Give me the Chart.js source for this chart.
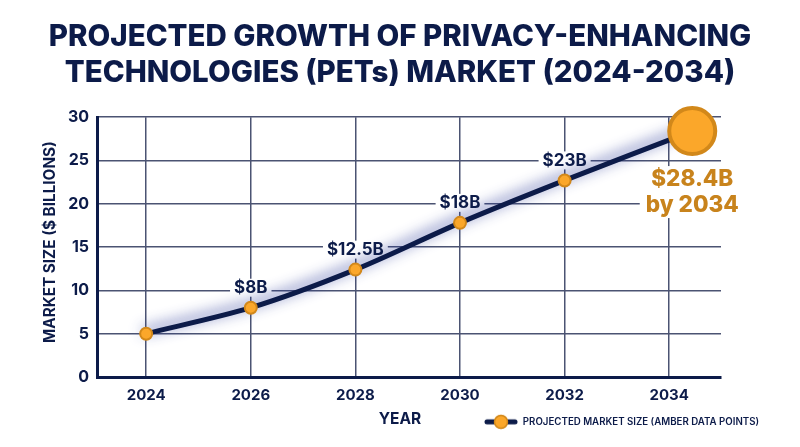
<!DOCTYPE html>
<html><head><meta charset="utf-8">
<style>html,body{margin:0;padding:0;background:#fff}canvas{display:block}</style>
<script src="https://cdn.jsdelivr.net/npm/chart.js@4"></script>
</head><body><canvas id="c" width="800" height="447"></canvas>
<script>
const titleLines = ['PROJECTED GROWTH OF PRIVACY-ENHANCING','TECHNOLOGIES (PETs) MARKET (2024-2034)'];
const years = [2024,2026,2028,2030,2032,2034.44];
const marketSize = [5,8,12.4,17.8,22.7,28.4];
const pointLabels = ['','$8B','$12.5B','$18B','$23B',''];
const calloutLines = ['$28.4B','by 2034'];
const xTicks = [2024,2026,2028,2030,2032,2034];
const yTicks = [0,5,10,15,20,25,30];
const xTitle = 'YEAR';
const yTitle = 'MARKET SIZE ($ BILLIONS)';
const legendText = 'PROJECTED MARKET SIZE (AMBER DATA POINTS)';

const NAVY='#0c1b49', GRID='#4b5372', AMBER='#fba72a', AMBER_D='#d2881a', GOLD='#c8831c';
const FF='Inter, "Open Sans", sans-serif';
const LABEL_FONT='700 17px '+FF, CALL_FONT='800 22.5px '+FF;
const pts = years.map((x,i)=>({x,y:marketSize[i]}));

const sym=document.createElement('canvas');sym.width=34;sym.height=16;
{const g=sym.getContext('2d');g.strokeStyle=NAVY;g.lineWidth=5;g.lineCap='round';
 g.beginPath();g.moveTo(3,8);g.lineTo(31,8);g.stroke();
 g.fillStyle=AMBER;g.strokeStyle=AMBER_D;g.lineWidth=1.5;g.beginPath();g.arc(17,8,6.5,0,7);g.fill();g.stroke();}

const glow={id:'glow',
 beforeDatasetDraw(c,a){if(a.index===0){c.ctx.save();c.ctx.shadowColor='rgba(40,55,150,0.85)';c.ctx.shadowBlur=14;c.ctx.shadowOffsetX=-1;c.ctx.shadowOffsetY=-3;}},
 afterDatasetDraw(c,a){if(a.index===0)c.ctx.restore();}};
function shiftTitle(s,dx,dy){if(s._wrapped)return;s._wrapped=true;const o=s.drawTitle;
 s.drawTitle=function(){const g=this.ctx;g.save();g.translate(dx,dy);o.call(this);g.restore();};}
const place={id:'place',beforeDraw(c){const l=c.legend;
 l.left=480;l.right=480+310;l.top=413;l.bottom=437;
 c.titleBlock.left=0;c.titleBlock.right=800;
 shiftTitle(c.scales.x,-9,0);shiftTitle(c.scales.y,1,-5);}};
function whiteBox(ctx,t,x,y,pad,h){const w=ctx.measureText(t).width;ctx.fillStyle='#fff';ctx.fillRect(x-w/2-pad,y-h/2,w+pad*2,h);}
const labels={id:'labels',
 beforeDatasetsDraw(c){const ctx=c.ctx,X=c.scales.x,Y=c.scales.y;ctx.save();
  ctx.font=LABEL_FONT;
  pts.forEach((p,i)=>{if(pointLabels[i])whiteBox(ctx,pointLabels[i],X.getPixelForValue(p.x),Y.getPixelForValue(p.y)-20,4,18);});
  const last=pts[pts.length-1],cx=X.getPixelForValue(last.x),cy=Y.getPixelForValue(last.y);
  ctx.font=CALL_FONT;
  calloutLines.forEach((t,i)=>whiteBox(ctx,t,cx,cy+48+i*26,6,26));
  ctx.restore();},
 afterDatasetsDraw(c){const ctx=c.ctx,X=c.scales.x,Y=c.scales.y;ctx.save();
  ctx.textAlign='center';ctx.textBaseline='middle';
  ctx.font=LABEL_FONT;ctx.fillStyle=NAVY;
  pts.forEach((p,i)=>{if(pointLabels[i])ctx.fillText(pointLabels[i],X.getPixelForValue(p.x),Y.getPixelForValue(p.y)-20);});
  const last=pts[pts.length-1],cx=X.getPixelForValue(last.x),cy=Y.getPixelForValue(last.y);
  ctx.font=CALL_FONT;ctx.fillStyle=GOLD;
  calloutLines.forEach((t,i)=>ctx.fillText(t,cx,cy+48+i*26));
  ctx.restore();}};

new Chart(document.getElementById('c'),{
 type:'line',
 data:{datasets:[
  {label:legendText,data:pts,borderColor:NAVY,borderWidth:5,tension:0.3,pointRadius:0,order:2,borderCapStyle:'round',clip:false},
  {label:'points',data:pts,showLine:false,order:1,clip:false,
   backgroundColor:AMBER,borderColor:AMBER_D,
   pointRadius:[6,6,6,6,6,23],pointBorderWidth:[2,2,2,2,2,4]}
 ]},
 options:{responsive:false,animation:false,devicePixelRatio:1,
  layout:{padding:{left:40,right:79,top:0,bottom:0}},
  plugins:{
   tooltip:{enabled:false},
   title:{display:true,text:titleLines,color:NAVY,font:{family:FF,size:29.5,weight:'800',lineHeight:1.19},padding:{top:20,bottom:27}},
   legend:{display:true,position:'chartArea',align:'start',
    labels:{usePointStyle:true,pointStyleWidth:34,boxHeight:14,padding:4,color:NAVY,font:{family:FF,size:9.7,weight:'600'},
     generateLabels:()=>[{text:legendText,pointStyle:sym,fontColor:NAVY,lineWidth:0,strokeStyle:'transparent',fillStyle:'transparent',datasetIndex:0}]}}
  },
  scales:{
   x:{type:'linear',min:2023.06,max:2034.99,
    afterBuildTicks:s=>{s.ticks=xTicks.map(v=>({value:v}));},
    afterFit:s=>{s.height=70;},
    grid:{color:GRID,lineWidth:1.5,drawTicks:false},
    border:{color:NAVY,width:3},
    ticks:{color:NAVY,font:{family:FF,size:15,weight:'700'},padding:9,maxRotation:0,autoSkip:false,callback:v=>String(v)},
    title:{display:true,text:xTitle,color:NAVY,font:{family:FF,size:15.5,weight:'700'},padding:{top:13,bottom:18}}
   },
   y:{min:0,max:30,
    afterBuildTicks:s=>{s.ticks=yTicks.map(v=>({value:v}));},
    afterFit:s=>{s.width=57;},
    grid:{color:GRID,lineWidth:1.5,drawTicks:false},
    border:{color:NAVY,width:3},
    ticks:{color:NAVY,font:{family:FF,size:16,weight:'700'},padding:8},
    title:{display:true,text:yTitle,color:NAVY,font:{family:FF,size:15.3,weight:'700'},padding:{top:0,bottom:0}}
   }
  }
 },
 plugins:[glow,place,labels]
});
</script></body></html>
